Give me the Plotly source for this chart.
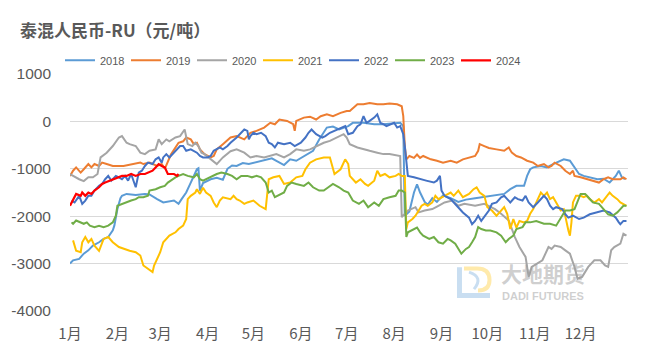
import plotly.graph_objects as go
import pandas as pd

# ---------------- data: (day of year, value) ----------------
s2018 = [(1,-3000),(3,-2930),(7,-2900),(10,-2790),(13,-2720),(16,-2620),(20,-2550),(23,-2480),(26,-2440),(29,-2300),
         (30,-2200),(32,-1850),(34,-1620),(35,-1570),(38,-1530),(44,-1550),(50,-1530),(53,-1540),(58,-1640),(62,-1710),
         (69,-1670),(72,-1740),(74,-1640),(77,-1500),(80,-1290),(82,-1150),(84,-1010),(85,-990),(86,-1460),(88,-1300),
         (93,-1220),(97,-1190),(101,-1230),(104,-1000),(107,-930),(110,-940),(114,-880),(118,-900),(123,-860),(129,-810),
         (133,-780),(141,-920),(145,-800),(149,-830),(154,-730),(160,-620),(164,-380),(169,-130),(173,-110),(177,-170),
         (183,-100),(186,-30),(193,-30),(200,-60),(206,-60),(213,-40),(217,-30),(219,-100),(220,-1990),(223,-1900),
         (226,-1500),(228,-1330),(230,-1500),(233,-1700),(235,-1760),(238,-1620),(241,-1700),(245,-1560),(250,-1620),(255,-1700),
         (260,-1650),(266,-1620),(271,-1600),(278,-1570),(285,-1530),(289,-1430),(293,-1360),(298,-1360),(300,-1150),(302,-1010),
         (304,-970),(309,-940),(313,-970),(317,-900),(322,-830),(324,-800),(328,-830),(331,-970),(334,-1110),(337,-1150),
         (341,-1180),(346,-1220),(350,-1210),(354,-1290),(358,-1150),(360,-1040),(362,-1180),(364,-1220)]

s2019 = [(1,-1150),(3,-1040),(5,-970),(8,-1080),(10,-1010),(13,-900),(15,-970),(17,-900),(20,-940),(22,-870),
         (25,-900),(29,-940),(36,-940),(43,-900),(47,-870),(49,-900),(53,-870),(58,-940),(61,-900),(63,-1000),
         (65,-850),(67,-700),(69,-600),(72,-450),(75,-420),(77,-340),(80,-380),(82,-480),(84,-450),(86,-590),
         (89,-690),(93,-760),(95,-730),(97,-590),(101,-480),(106,-340),(110,-310),(115,-380),(119,-240),(123,-200),
         (128,-130),(132,-30),(135,-60),(138,40),(143,10),(147,-60),(148,-200),(149,10),(154,80),(158,100),
         (162,40),(165,110),(169,150),(173,110),(178,180),(182,220),(184,220),(189,360),(193,360),(197,390),
         (202,360),(206,360),(210,380),(215,360),(218,320),(219,110),(220,-520),(221,-800),(223,-730),(226,-770),
         (228,-700),(230,-770),(232,-730),(237,-800),(241,-830),(245,-870),(250,-830),(254,-870),(258,-800),(263,-760),
         (266,-730),(268,-620),(269,-480),(272,-520),(275,-560),(280,-590),(285,-620),(288,-550),(290,-660),(293,-730),
         (296,-760),(300,-830),(304,-870),(307,-940),(311,-900),(314,-970),(316,-940),(318,-870),(322,-940),(325,-1040),
         (328,-1110),(330,-1040),(331,-1150),(335,-1180),(339,-1220),(343,-1250),(347,-1290),(350,-1220),(353,-1180),(356,-1220),
         (361,-1220),(363,-1180),(365,-1220)]

s2020 = [(1,-1110),(3,-1150),(7,-1220),(10,-1260),(13,-1180),(16,-1180),(19,-1110),(21,-760),(25,-660),(29,-520),
         (33,-340),(35,-310),(38,-450),(40,-480),(44,-520),(47,-660),(50,-690),(53,-620),(57,-590),(59,-380),
         (61,-480),(64,-380),(66,-420),(70,-340),(73,-310),(76,-170),(78,-480),(81,-520),(83,-450),(85,-520),
         (87,-660),(89,-690),(93,-800),(97,-900),(101,-760),(106,-630),(110,-590),(115,-660),(119,-760),(123,-730),
         (128,-760),(132,-730),(136,-690),(141,-760),(145,-690),(149,-590),(154,-620),(158,-590),(162,-520),(167,-450),
         (171,-410),(176,-340),(180,-270),(182,-340),(184,-480),(189,-550),(193,-590),(197,-620),(202,-660),(206,-690),
         (210,-690),(215,-730),(217,-730),(218,-2020),(222,-1880),(227,-1810),(229,-1920),(233,-1880),(238,-1850),(242,-1780),
         (246,-1710),(251,-1670),(255,-1780),(259,-1740),(266,-1780),(272,-1740),(279,-1850),(283,-1950),(288,-2090),(292,-2440),
         (295,-2650),(299,-2860),(301,-3280),(303,-3070),(307,-3000),(310,-2930),(314,-2650),(316,-2690),(318,-2620),(322,-2650),
         (325,-2720),(328,-2790),(331,-3070),(333,-3320),(336,-3280),(338,-3180),(340,-3070),(344,-2930),(348,-2930),(351,-3040),
         (353,-3070),(355,-2720),(357,-2650),(361,-2580),(363,-2370),(365,-2410)]

s2021 = [(3,-2510),(5,-2730),(8,-2760),(9,-2550),(11,-2440),(13,-2550),(15,-2480),(17,-2620),(20,-2730),(23,-2480),
         (26,-2440),(29,-2550),(33,-2650),(36,-2690),(40,-2730),(44,-2760),(47,-2830),(49,-3040),(52,-3110),(55,-3180),
         (56,-3040),(58,-2900),(60,-2760),(62,-2550),(64,-2480),(66,-2410),(70,-2340),(72,-2270),(75,-2200),(77,-2060),
         (78,-1640),(80,-1570),(83,-1500),(84,-1430),(86,-1530),(88,-1400),(90,-1500),(93,-1570),(95,-1710),(97,-1810),
         (99,-1670),(101,-1600),(106,-1640),(108,-1570),(110,-1640),(112,-1670),(115,-1740),(117,-1710),(121,-1670),(125,-1780),
         (129,-1850),(130,-1570),(131,-1220),(134,-1180),(138,-1150),(141,-1320),(145,-1290),(149,-1180),(153,-1150),(155,-1010),
         (158,-870),(162,-800),(167,-760),(171,-760),(174,-1110),(178,-1010),(181,-800),(183,-900),(184,-1150),(188,-1290),
         (191,-1220),(194,-1320),(196,-1360),(200,-1250),(202,-1040),(204,-1150),(207,-1110),(210,-1180),(214,-1150),(216,-1110),
         (218,-1150),(220,-1150),(221,-2270),(222,-2130),(225,-2060),(227,-1990),(229,-1880),(231,-1780),(233,-1740),(235,-1780),
         (238,-1710),(240,-1570),(242,-1640),(244,-1600),(246,-1570),(250,-1500),(252,-1570),(255,-1460),(258,-1600),(262,-1530),
         (265,-1430),(267,-1390),(269,-1500),(272,-1570),(274,-1810),(277,-1880),(280,-1990),(282,-1920),(285,-1810),(287,-1950),
         (289,-2270),(291,-2060),(293,-2240),(295,-2100),(298,-2130),(300,-2100),(302,-1950),(304,-1850),(306,-1710),(309,-1500),
         (311,-1570),(313,-1500),(315,-1640),(317,-1600),(319,-1710),(322,-1880),(324,-1850),(326,-2170),(327,-2300),(328,-2410),
         (329,-2130),(330,-1710),(332,-1570),(335,-1570),(337,-1600),(339,-1570),(341,-1640),(344,-1710),(347,-1640),(349,-1710),
         (352,-1570),(354,-1500),(356,-1570),(359,-1640),(361,-1710),(363,-1740),(365,-1780)]

s2022 = [(2,-1670),(4,-1710),(7,-1570),(9,-1740),(11,-1670),(13,-1570),(15,-1570),(17,-1460),(20,-1360),(22,-1320),
         (24,-1220),(26,-1150),(28,-1250),(31,-1150),(33,-1180),(35,-1220),(37,-1150),(39,-1250),(41,-1110),(44,-1390),
         (46,-1080),(48,-1040),(50,-940),(52,-870),(55,-900),(57,-800),(59,-760),(61,-870),(62,-760),(64,-690),
         (66,-760),(69,-660),(71,-590),(73,-520),(75,-520),(77,-620),(80,-590),(82,-620),(84,-660),(86,-730),
         (88,-760),(91,-760),(93,-730),(95,-620),(97,-590),(99,-550),(101,-590),(104,-520),(106,-450),(110,-340),
         (115,-170),(117,-200),(118,-380),(119,-310),(121,-240),(123,-270),(126,-240),(129,-310),(131,-450),(133,-480),
         (135,-550),(137,-450),(141,-480),(145,-450),(148,-520),(152,-450),(155,-340),(157,-240),(159,-170),(162,-270),
         (166,-340),(168,-310),(171,-240),(174,-200),(178,-130),(181,-100),(183,-270),(186,-240),(189,-100),(191,-60),
         (193,110),(195,-30),(197,10),(200,80),(202,150),(204,-30),(206,-60),(208,-100),(213,-30),(215,-130),
         (217,-100),(219,-270),(220,-520),(221,-870),(222,-1150),(226,-1180),(230,-1220),(234,-1250),(239,-1290),(241,-1250),
         (243,-1150),(244,-1460),(246,-1570),(250,-1640),(254,-1780),(258,-1920),(262,-2030),(264,-2170),(266,-2100),(268,-1990),
         (270,-2100),(273,-1960),(275,-1880),(277,-1740),(280,-1710),(283,-1600),(285,-1570),(287,-1640),(289,-1710),(292,-1600),
         (294,-1640),(297,-1670),(299,-1570),(301,-1710),(304,-1810),(307,-1710),(311,-1570),(313,-1640),(315,-1780),(317,-1850),
         (319,-1810),(323,-1850),(325,-1960),(327,-2030),(330,-1990),(334,-2060),(337,-2030),(341,-1960),(346,-1920),(350,-1880),
         (354,-1920),(358,-2030),(360,-2130),(361,-2170),(363,-2100),(365,-2100)]

s2023 = [(2,-2130),(3,-2160),(5,-2090),(8,-2130),(10,-2160),(12,-2130),(14,-2200),(17,-2230),(20,-2200),(23,-2230),
         (26,-2200),(29,-2130),(31,-1990),(32,-1780),(35,-1740),(38,-1710),(41,-1670),(44,-1640),(46,-1600),(49,-1600),
         (52,-1570),(53,-1460),(57,-1430),(60,-1390),(63,-1360),(65,-1290),(68,-1220),(70,-1180),(72,-1150),(75,-1110),
         (78,-1150),(82,-1180),(84,-1110),(86,-1220),(88,-1250),(90,-1220),(94,-1150),(97,-1110),(100,-1080),(104,-1110),
         (107,-1150),(110,-1220),(113,-1150),(117,-1150),(120,-1180),(123,-1150),(126,-1180),(129,-1290),(131,-1500),(133,-1460),
         (135,-1600),(137,-1570),(141,-1500),(143,-1360),(146,-1290),(149,-1320),(154,-1360),(157,-1290),(160,-1390),(164,-1460),
         (167,-1460),(170,-1390),(173,-1320),(177,-1390),(180,-1460),(183,-1500),(186,-1670),(190,-1740),(193,-1670),(196,-1810),
         (200,-1710),(203,-1780),(206,-1640),(210,-1600),(214,-1570),(216,-1460),(218,-1460),(220,-1500),(221,-2440),(222,-2340),
         (226,-2270),(228,-2240),(230,-2340),(232,-2410),(236,-2480),(239,-2440),(242,-2550),(245,-2580),(248,-2480),(250,-2510),
         (253,-2580),(255,-2690),(257,-2790),(260,-2690),(262,-2650),(264,-2550),(266,-2440),(268,-2230),(270,-2270),(273,-2300),
         (276,-2300),(280,-2340),(283,-2410),(286,-2550),(288,-2480),(291,-2410),(293,-2270),(297,-2230),(299,-2130),(302,-2130),
         (306,-2100),(311,-2160),(315,-2160),(319,-2200),(322,-2030),(325,-1880),(328,-1880),(331,-1850),(335,-1530),(338,-1530),
         (340,-1600),(343,-1710),(347,-1740),(350,-1850),(353,-1960),(356,-1990),(359,-1920),(361,-1850),(363,-1780),(365,-1780)]

s2024 = [(1,-1780),(2,-1710),(3,-1640),(5,-1530),(8,-1570),(9,-1500),(11,-1570),(13,-1500),(15,-1530),(17,-1460),
         (20,-1390),(22,-1320),(24,-1290),(27,-1250),(29,-1220),(32,-1180),(35,-1150),(38,-1150),(41,-1110),(44,-1150),
         (47,-1110),(50,-1110),(52,-1080),(55,-1040),(57,-970),(59,-900),(61,-940),(63,-970),(65,-1110),(69,-1110),
         (71,-1150),(72,-1110)]

series_names = ["2018", "2019", "2020", "2021", "2022", "2023", "2024"]
series_data = [s2018, s2019, s2020, s2021, s2022, s2023, s2024]
series_colors = ["#5B9BD5", "#ED7D31", "#A5A5A5", "#FFC000", "#4472C4", "#70AD47", "#FF0000"]

month_labels = ["1月", "2月", "3月", "4月", "5月", "6月", "7月", "8月", "9月", "10月", "11月", "12月"]
y_ticks = [1000, 0, -1000, -2000, -3000, -4000]

BASE = pd.Timestamp("2021-01-01")


def to_dates(days):
    return [BASE + pd.Timedelta(days=d - 1) for d in days]


fig = go.Figure()
for name, data, color in zip(series_names, series_data, series_colors):
    days = [p[0] for p in data]
    vals = [p[1] for p in data]
    fig.add_trace(go.Scatter(x=to_dates(days), y=vals, mode="lines", name=name,
                             line=dict(color=color, width=2.2 if name == "2024" else 2)))

# ---------------- watermark (pixel -> paper helpers) ----------------
PL, PR, PT, PB = 70, 628, 73.7, 310.9


def px(x):
    return (x - PL) / (PR - PL)


def py(y):
    return (PB - y) / (PB - PT)


def path(points_cmds):
    out = []
    for cmd, pts in points_cmds:
        coords = " ".join(f"{px(a):.4f},{py(b):.4f}" for a, b in pts)
        out.append(f"{cmd} {coords}")
    return " ".join(out)


shapes = [
    dict(type="path", xref="paper", yref="paper",
         path=path([("M", [(459.5, 267)]), ("L", [(459.5, 295.5)]), ("L", [(490, 295.5)])]),
         line=dict(color="rgba(91,155,213,0.33)", width=5)),
    dict(type="path", xref="paper", yref="paper",
         path=path([("M", [(464, 268.5)]), ("L", [(477, 268.5)]), ("Q", [(489.5, 268.5), (489.5, 280)]),
                    ("Q", [(489.5, 290.5), (478, 290.5)])]),
         line=dict(color="rgba(255,192,0,0.33)", width=4)),
    dict(type="path", xref="paper", yref="paper",
         path=path([("M", [(469, 272)]), ("Q", [(484, 277), (474, 289)])]),
         line=dict(color="rgba(91,155,213,0.33)", width=3)),
]

annotations = [
    dict(text="<b>大地期货</b>", xref="paper", yref="paper", x=px(543), y=py(288.5), xanchor="center", yanchor="bottom",
         showarrow=False, borderpad=0,
         font=dict(size=21, color="rgba(160,160,160,0.5)", family="Noto Sans CJK SC")),
    dict(text="<b>DADI FUTURES</b>", xref="paper", yref="paper", x=px(543), y=py(288.5), xanchor="center", yanchor="top",
         showarrow=False, borderpad=0,
         font=dict(size=11, color="rgba(160,160,160,0.5)", family="Liberation Sans")),
]

fig.update_layout(
    width=649, height=354,
    margin=dict(l=PL, r=649 - PR, t=PT, b=354 - PB),
    paper_bgcolor="white", plot_bgcolor="white",
    font=dict(family="Liberation Sans, Noto Sans CJK SC", color="#595959"),
    title=dict(text="<b>泰混人民币-RU（元/吨）</b>", x=20 / 649, xanchor="left", xref="container",
               y=1 - 31 / 354, yanchor="middle", yref="container",
               font=dict(size=17, color="#595959", family="Noto Sans CJK SC")),
    legend=dict(orientation="h", x=px(60), xanchor="left", y=py(60), yanchor="middle",
                font=dict(size=11, color="#595959", family="Liberation Sans"),
                entrywidth=21, entrywidthmode="pixels", bgcolor="rgba(0,0,0,0)",
                tracegroupgap=0, itemwidth=30),
    xaxis=dict(type="date", range=["2021-01-01", "2022-01-01"],
               tickvals=[BASE + pd.DateOffset(months=i) for i in range(12)], ticktext=month_labels,
               showgrid=False, zeroline=False, showline=False, ticks="",
               tickfont=dict(size=15, color="#595959", family="Noto Sans CJK SC"),
               ticklabelstandoff=12),
    yaxis=dict(range=[-4000, 1000], tickvals=y_ticks, ticktext=[str(v) for v in y_ticks],
               showgrid=True, gridcolor="#d9d9d9", gridwidth=1.2, zeroline=False, showline=False, ticks="",
               tickfont=dict(size=15.5, color="#595959", family="Liberation Sans"),
               ticklabelstandoff=18),
    shapes=shapes,
    annotations=annotations,
    showlegend=True,
)

fig.write_html("out.html")
